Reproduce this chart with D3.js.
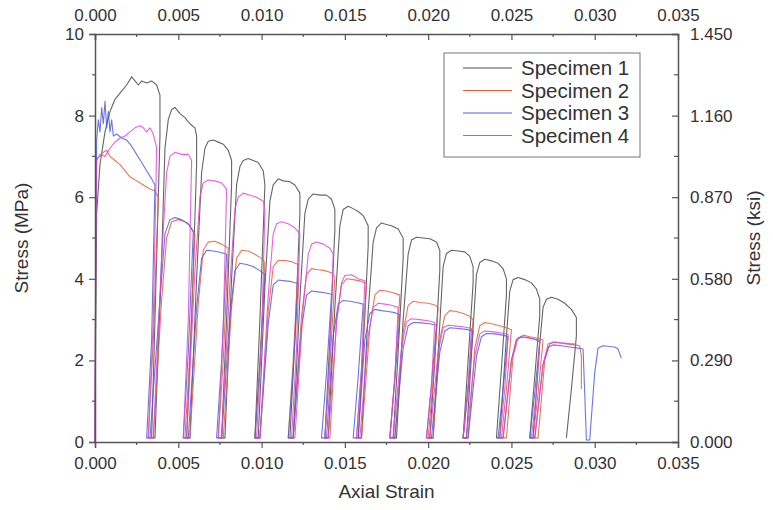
<!DOCTYPE html>
<html><head><meta charset="utf-8">
<script src="https://cdn.jsdelivr.net/npm/d3@7"></script>
<style>body{margin:0;background:#fff}svg{display:block}</style>
</head><body>
<svg id="chart" width="773" height="510"></svg>
<script>
const specimenNames = ["Specimen 1","Specimen 2","Specimen 3","Specimen 4"];
const specimenColors = ["#4a4a4a","#e0603c","#4f5fdc","#e048d8"];
const strainTicks = [0,0.005,0.010,0.015,0.020,0.025,0.030,0.035];
const stressTicks = [0,2,4,6,8,10];
const ksiTicks = [0,0.290,0.580,0.870,1.160,1.450];

const specimen1 = [[0,0],[0.00005,3.5],[0.0001,5.6],[0.0003,6.8],[0.0006,7.6],[0.0009,8.1],[0.0012,8.4],[0.0016,8.6],[0.0019,8.75],[0.0022,8.95],[0.0024,8.85],[0.0026,8.75],[0.0028,8.85],[0.0031,8.8],[0.0034,8.85],[0.0037,8.75],[0.0039,8.5],[0.0039,7.5],
[0.0036,3.0],[0.0034,0.1],
[0.0036,0.1],[0.0040,4.5],[0.0042,7.2],[0.0044,7.9],[0.0046,8.15],[0.0048,8.2],[0.0051,8.05],[0.0054,7.95],[0.0057,7.8],[0.0060,7.7],[0.0061,7.5],[0.0061,6.8],
[0.0058,3],[0.0055,0.1],
[0.0057,0.1],[0.0061,4],[0.0064,6.6],[0.0066,7.2],[0.0068,7.37],[0.0071,7.4],[0.0074,7.35],[0.0077,7.3],[0.0080,7.15],[0.0082,6.9],[0.0082,6.3],
[0.0079,3],[0.0076,0.1],
[0.0078,0.1],[0.0082,4],[0.0085,6.3],[0.0087,6.75],[0.0089,6.9],[0.0092,6.95],[0.0095,6.9],[0.0098,6.85],[0.0101,6.65],[0.0102,6.3],
[0.0099,3],[0.0096,0.1],
[0.0098,0.1],[0.0102,3.8],[0.0105,5.9],[0.0107,6.3],[0.0110,6.45],[0.0113,6.4],[0.0117,6.38],[0.0120,6.3],[0.0123,6.1],[0.0123,5.6],
[0.0120,2.5],[0.0117,0.1],
[0.0119,0.1],[0.0123,3.5],[0.0126,5.6],[0.0128,5.95],[0.0131,6.08],[0.0135,6.05],[0.0139,6.05],[0.0142,5.95],[0.0144,5.7],[0.0144,5.2],
[0.0141,2.5],[0.0138,0.1],
[0.0140,0.1],[0.0144,3.3],[0.0147,5.3],[0.0149,5.7],[0.0152,5.78],[0.0155,5.72],[0.0158,5.65],[0.0161,5.55],[0.0164,5.3],[0.0164,4.8],
[0.0161,2.3],[0.0158,0.1],
[0.0160,0.1],[0.0164,3.2],[0.0167,4.9],[0.0169,5.25],[0.0172,5.37],[0.0175,5.33],[0.0178,5.3],[0.0182,5.22],[0.0185,5.0],[0.0185,4.5],
[0.0182,2.2],[0.0179,0.1],
[0.0181,0.1],[0.0185,3.0],[0.0188,4.6],[0.0190,4.95],[0.0193,5.02],[0.0197,5.0],[0.0201,4.98],[0.0205,4.9],[0.0207,4.7],[0.0207,4.2],
[0.0204,2],[0.0201,0.1],
[0.0203,0.1],[0.0207,2.9],[0.0209,4.3],[0.0211,4.62],[0.0214,4.7],[0.0218,4.68],[0.0222,4.66],[0.0225,4.55],[0.0227,4.3],[0.0227,3.9],
[0.0224,2],[0.0221,0.1],
[0.0223,0.1],[0.0227,2.8],[0.0229,4.1],[0.0231,4.4],[0.0234,4.48],[0.0238,4.44],[0.0242,4.38],[0.0245,4.25],[0.0247,4.0],[0.0247,3.6],
[0.0244,1.8],[0.0241,0.1],
[0.0243,0.1],[0.0247,2.6],[0.0249,3.7],[0.0251,3.98],[0.0254,4.03],[0.0258,3.98],[0.0262,3.9],[0.0265,3.75],[0.0267,3.5],[0.0267,3.1],
[0.0264,1.6],[0.0261,0.1],
[0.0263,0.1],[0.0267,2.4],[0.0269,3.3],[0.0271,3.5],[0.0274,3.55],[0.0278,3.5],[0.0282,3.4],[0.0286,3.25],[0.0289,3.05],[0.0289,2.6],
[0.0286,1.3],[0.0283,0.1]];

const specimen2 = [[0,0],[0.00005,5],[0.0001,6.95],[0.0003,7.0],[0.0005,7.1],[0.0007,7.15],[0.0009,7.0],[0.0012,6.9],[0.0015,6.8],[0.0018,6.65],[0.0021,6.5],[0.0025,6.4],[0.0029,6.3],[0.0033,6.2],[0.0036,6.15],[0.0038,6.0],
[0.0035,2.5],[0.0032,0.1],
[0.0035,0.1],[0.0040,3.5],[0.0043,5.0],[0.0046,5.4],[0.0050,5.45],[0.0054,5.4],[0.0057,5.3],[0.0060,5.1],
[0.0057,2.2],[0.0054,0.1],
[0.0057,0.1],[0.0062,3.4],[0.0065,4.7],[0.0068,4.9],[0.0072,4.92],[0.0076,4.85],[0.0080,4.75],
[0.0077,2],[0.0074,0.1],
[0.0077,0.1],[0.0082,3.3],[0.0085,4.5],[0.0088,4.7],[0.0092,4.68],[0.0096,4.6],[0.0100,4.5],[0.0102,4.4],
[0.0099,2],[0.0096,0.1],
[0.0099,0.1],[0.0104,3.2],[0.0107,4.3],[0.0110,4.45],[0.0114,4.45],[0.0118,4.42],[0.0122,4.35],
[0.0119,2],[0.0116,0.1],
[0.0119,0.1],[0.0124,3.1],[0.0127,4.1],[0.0130,4.25],[0.0134,4.22],[0.0138,4.2],[0.0142,4.15],[0.0144,4.05],
[0.0141,1.8],[0.0138,0.1],
[0.0141,0.1],[0.0145,3],[0.0148,3.85],[0.0151,4.0],[0.0155,3.98],[0.0159,3.95],[0.0163,3.88],
[0.0160,1.8],[0.0157,0.1],
[0.0160,0.1],[0.0165,2.8],[0.0168,3.6],[0.0171,3.72],[0.0175,3.7],[0.0179,3.66],[0.0183,3.6],
[0.0180,1.6],[0.0177,0.1],
[0.0180,0.1],[0.0185,2.7],[0.0188,3.35],[0.0191,3.45],[0.0195,3.42],[0.0200,3.4],[0.0204,3.36],[0.0206,3.3],
[0.0203,1.5],[0.0200,0.1],
[0.0203,0.1],[0.0207,2.5],[0.0210,3.1],[0.0213,3.22],[0.0217,3.2],[0.0221,3.15],[0.0225,3.08],[0.0227,3.0],
[0.0224,1.4],[0.0221,0.1],
[0.0224,0.1],[0.0228,2.3],[0.0231,2.85],[0.0234,2.93],[0.0238,2.9],[0.0243,2.85],[0.0247,2.8],[0.0250,2.75],
[0.0247,1.3],[0.0244,0.1],
[0.0247,0.1],[0.0251,2.1],[0.0254,2.55],[0.0257,2.62],[0.0261,2.58],[0.0265,2.55],[0.0269,2.5],
[0.0266,1.2],[0.0263,0.1],
[0.0266,0.1],[0.0270,2.0],[0.0273,2.4],[0.0276,2.45],[0.0280,2.42],[0.0284,2.4],[0.0288,2.38],[0.0291,2.36],[0.0292,2.1],[0.0292,1.3]];

const specimen3 = [[0,0],[0.00005,5],[0.0001,7.4],[0.0002,7.9],[0.0003,7.6],[0.0004,8.2],[0.0005,7.8],[0.0006,8.35],[0.0007,7.7],[0.0008,8.1],[0.0009,7.6],[0.0010,7.9],[0.0011,7.5],[0.0013,7.55],[0.0016,7.45],[0.0019,7.4],[0.0022,7.25],[0.0025,7.05],[0.0028,6.85],[0.0031,6.65],[0.0034,6.45],[0.0036,6.3],
[0.0034,2.5],[0.0031,0.1],
[0.0033,0.1],[0.0039,3.5],[0.0042,5.1],[0.0045,5.45],[0.0048,5.5],[0.0052,5.45],[0.0056,5.35],[0.0059,5.15],
[0.0056,2.2],[0.0053,0.1],
[0.0056,0.1],[0.0061,3.3],[0.0064,4.5],[0.0067,4.7],[0.0071,4.68],[0.0075,4.65],[0.0079,4.6],
[0.0076,2],[0.0073,0.1],
[0.0076,0.1],[0.0081,3.1],[0.0084,4.2],[0.0087,4.38],[0.0091,4.35],[0.0095,4.3],[0.0099,4.2],[0.0102,4.1],
[0.0099,1.9],[0.0096,0.1],
[0.0099,0.1],[0.0104,2.9],[0.0107,3.85],[0.0110,3.97],[0.0114,3.95],[0.0118,3.93],[0.0122,3.88],
[0.0119,1.8],[0.0116,0.1],
[0.0119,0.1],[0.0124,2.8],[0.0127,3.6],[0.0130,3.7],[0.0134,3.68],[0.0138,3.66],[0.0142,3.62],
[0.0139,1.7],[0.0136,0.1],
[0.0139,0.1],[0.0143,2.6],[0.0146,3.38],[0.0149,3.47],[0.0153,3.45],[0.0157,3.42],[0.0161,3.38],
[0.0158,1.6],[0.0155,0.1],
[0.0158,0.1],[0.0162,2.5],[0.0165,3.15],[0.0168,3.25],[0.0172,3.22],[0.0176,3.2],[0.0180,3.17],[0.0183,3.12],
[0.0180,1.5],[0.0177,0.1],
[0.0180,0.1],[0.0185,2.3],[0.0188,2.85],[0.0191,2.93],[0.0196,2.92],[0.0201,2.9],[0.0205,2.86],
[0.0202,1.4],[0.0199,0.1],
[0.0202,0.1],[0.0207,2.2],[0.0210,2.72],[0.0213,2.8],[0.0218,2.78],[0.0223,2.76],[0.0227,2.72],
[0.0224,1.3],[0.0221,0.1],
[0.0224,0.1],[0.0229,2.1],[0.0232,2.58],[0.0235,2.66],[0.0240,2.65],[0.0245,2.62],[0.0248,2.58],
[0.0245,1.3],[0.0242,0.1],
[0.0245,0.1],[0.0250,2.0],[0.0253,2.5],[0.0256,2.58],[0.0260,2.56],[0.0264,2.52],[0.0267,2.45],
[0.0264,1.2],[0.0261,0.1],
[0.0264,0.1],[0.0269,1.9],[0.0272,2.32],[0.0275,2.38],[0.0280,2.36],[0.0285,2.33],[0.0290,2.3],[0.0293,2.28],
[0.0294,1.2],[0.0295,0.05],
[0.0297,0.05],[0.0300,1.7],[0.0302,2.3],[0.0305,2.36],[0.0309,2.34],[0.0312,2.33],[0.0314,2.28],[0.0316,2.05]];

const specimen4 = [[0,0],[0.00005,5.5],[0.0001,6.9],[0.0003,7.05],[0.0006,7.0],[0.0009,7.2],[0.0012,7.35],[0.0015,7.45],[0.0018,7.5],[0.0021,7.6],[0.0024,7.7],[0.0027,7.75],[0.0029,7.7],[0.0031,7.6],[0.0033,7.7],[0.0035,7.55],[0.0037,7.2],
[0.0035,3],[0.0032,0.1],
[0.0035,0.1],[0.0040,4.5],[0.0043,6.6],[0.0045,7.0],[0.0048,7.1],[0.0052,7.05],[0.0056,7.05],[0.0058,6.9],
[0.0056,3],[0.0053,0.1],
[0.0055,0.1],[0.0060,4.2],[0.0063,6.0],[0.0065,6.35],[0.0068,6.42],[0.0072,6.4],[0.0076,6.35],[0.0079,6.2],
[0.0077,2.8],[0.0074,0.1],
[0.0076,0.1],[0.0081,3.9],[0.0084,5.7],[0.0086,6.0],[0.0089,6.1],[0.0093,6.05],[0.0097,6.0],[0.0101,5.9],[0.0102,5.7],
[0.0100,2.5],[0.0097,0.1],
[0.0099,0.1],[0.0104,3.6],[0.0107,5.1],[0.0109,5.35],[0.0112,5.4],[0.0116,5.35],[0.0120,5.25],[0.0123,5.1],
[0.0121,2.3],[0.0118,0.1],
[0.0120,0.1],[0.0125,3.3],[0.0128,4.6],[0.0130,4.85],[0.0133,4.9],[0.0137,4.85],[0.0141,4.75],[0.0143,4.6],
[0.0141,2.1],[0.0138,0.1],
[0.0140,0.1],[0.0145,2.9],[0.0148,3.9],[0.0150,4.08],[0.0154,4.1],[0.0158,4.0],[0.0162,3.95],
[0.0160,1.8],[0.0157,0.1],
[0.0159,0.1],[0.0164,2.6],[0.0167,3.3],[0.0170,3.4],[0.0174,3.38],[0.0178,3.35],[0.0182,3.3],
[0.0180,1.6],[0.0177,0.1],
[0.0179,0.1],[0.0184,2.3],[0.0187,2.95],[0.0190,3.02],[0.0195,3.0],[0.0200,2.97],[0.0204,2.93],
[0.0202,1.4],[0.0199,0.1],
[0.0201,0.1],[0.0206,2.2],[0.0209,2.8],[0.0212,2.86],[0.0217,2.84],[0.0222,2.82],[0.0226,2.78],
[0.0224,1.3],[0.0221,0.1],
[0.0223,0.1],[0.0228,2.1],[0.0231,2.65],[0.0234,2.72],[0.0239,2.7],[0.0244,2.67],[0.0248,2.64],
[0.0246,1.3],[0.0243,0.1],
[0.0245,0.1],[0.0250,2.0],[0.0253,2.52],[0.0256,2.57],[0.0260,2.55],[0.0264,2.52],[0.0267,2.5],
[0.0265,1.2],[0.0262,0.1],
[0.0264,0.1],[0.0269,1.9],[0.0272,2.4],[0.0275,2.45],[0.0280,2.43],[0.0285,2.41],[0.0289,2.4]];

const specimens = [specimen1, specimen2, specimen3, specimen4];

const svg = d3.select("#chart");
const m = {left:95, right:678, top:34, bottom:442};
const x = d3.scaleLinear().domain([0,0.035]).range([m.left, m.right]);
const y = d3.scaleLinear().domain([0,10]).range([m.bottom, m.top]);
const yR = d3.scaleLinear().domain([0,1.45]).range([m.bottom, m.top]);
const font = "Arial, 'Liberation Sans', sans-serif";
const textCol = "#333";
const axisCol = "#555";

// data lines
const line = d3.line().x(d=>x(d[0])).y(d=>y(d[1]));
const gData = svg.append("g");
specimens.forEach((s,i)=>{
  gData.append("path").datum(s).attr("d", line)
    .attr("fill","none").attr("stroke", specimenColors[i])
    .attr("stroke-width",1.1).attr("stroke-opacity",0.85).attr("stroke-linejoin","round");
});

function styleAxis(g){
  g.selectAll(".domain").attr("stroke",axisCol).attr("stroke-width",1.5);
  g.selectAll(".tick line").attr("stroke",axisCol).attr("stroke-width",1.2);
  g.selectAll(".tick text").attr("fill",textCol).attr("font-family",font).attr("font-size","17px");
}
const minorX = d3.range(0.0025,0.035,0.005);
const minorY = d3.range(1,10,2);

// bottom axis
const gB = svg.append("g").attr("transform",`translate(0,${m.bottom})`)
  .call(d3.axisBottom(x).tickValues(strainTicks).tickFormat(d3.format(".3f")).tickSizeOuter(0).tickSize(6).tickPadding(9));
styleAxis(gB);
gB.selectAll(".minor").data(minorX).enter().append("line").attr("class","minor")
  .attr("x1",d=>x(d)).attr("x2",d=>x(d)).attr("y1",0).attr("y2",3).attr("stroke",axisCol).attr("stroke-width",1.2);
// top axis (ticks inward)
const gT = svg.append("g").attr("transform",`translate(0,${m.top})`)
  .call(d3.axisTop(x).tickValues(strainTicks).tickFormat(d3.format(".3f")).tickSizeOuter(0).tickSize(-6).tickPadding(13));
styleAxis(gT);
gT.selectAll(".minor").data(minorX).enter().append("line").attr("class","minor")
  .attr("x1",d=>x(d)).attr("x2",d=>x(d)).attr("y1",0).attr("y2",3).attr("stroke",axisCol).attr("stroke-width",1.2);
// left axis
const gL = svg.append("g").attr("transform",`translate(${m.left},0)`)
  .call(d3.axisLeft(y).tickValues(stressTicks).tickFormat(d3.format("d")).tickSizeOuter(0).tickSize(6).tickPadding(5));
styleAxis(gL);
gL.selectAll(".minor").data(minorY).enter().append("line").attr("class","minor")
  .attr("x1",-3).attr("x2",0).attr("y1",d=>y(d)).attr("y2",d=>y(d)).attr("stroke",axisCol).attr("stroke-width",1.2);
// right axis (ticks inward)
const gR = svg.append("g").attr("transform",`translate(${m.right},0)`)
  .call(d3.axisRight(yR).tickValues(ksiTicks).tickFormat(d3.format(".3f")).tickSizeOuter(0).tickSize(-6).tickPadding(12));
styleAxis(gR);
gR.selectAll(".minor").data(minorY).enter().append("line").attr("class","minor")
  .attr("x1",-4).attr("x2",0).attr("y1",d=>y(d)).attr("y2",d=>y(d)).attr("stroke",axisCol).attr("stroke-width",1.2);

// axis titles
svg.append("text").attr("x",(m.left+m.right)/2).attr("y",498).attr("text-anchor","middle")
  .attr("font-family",font).attr("font-size","19px").attr("fill",textCol).text("Axial Strain");
svg.append("text").attr("transform",`translate(28,${(m.top+m.bottom)/2}) rotate(-90)`).attr("text-anchor","middle")
  .attr("font-family",font).attr("font-size","19px").attr("fill",textCol).text("Stress (MPa)");
svg.append("text").attr("transform",`translate(760,${(m.top+m.bottom)/2}) rotate(-90)`).attr("text-anchor","middle")
  .attr("font-family",font).attr("font-size","19px").attr("fill",textCol).text("Stress (ksi)");

// legend
const lg = svg.append("g");
lg.append("rect").attr("x",444).attr("y",53).attr("width",196).attr("height",104)
  .attr("fill","#fff").attr("stroke","#777").attr("stroke-width",1);
specimenNames.forEach((n,i)=>{
  const yy = 68 + i*22.5;
  lg.append("line").attr("x1",463).attr("x2",512).attr("y1",yy).attr("y2",yy)
    .attr("stroke",specimenColors[i]).attr("stroke-width",1);
  lg.append("text").attr("x",521).attr("y",yy+7).attr("font-family",font).attr("font-size","20.5px")
    .attr("fill",textCol).text(n);
});
</script>
</body></html>
